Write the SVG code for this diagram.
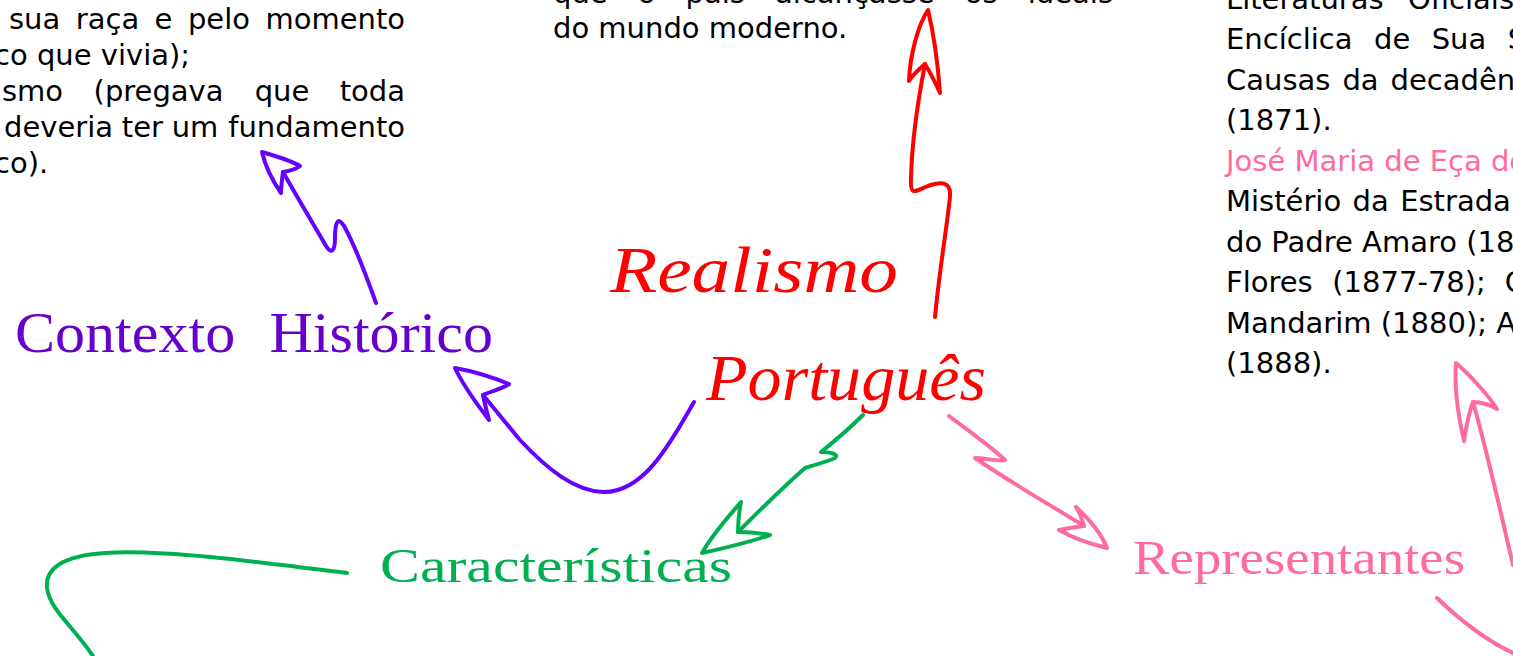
<svg xmlns="http://www.w3.org/2000/svg" width="1513" height="656" viewBox="0 0 1513 656">
<style>
.body{font-family:"DejaVu Sans","Verdana",sans-serif;font-size:29px;fill:#000}
.pink{fill:#ff6b9d}
.end{text-anchor:end}
.deco{font-family:"Liberation Serif","Times New Roman",serif}
.script{font-family:"Liberation Serif","Times New Roman",serif;font-style:italic;fill:#ff0000}
.ar{fill:none;stroke-width:4;stroke-linecap:round;stroke-linejoin:round}
.red{stroke:#ff0000}
.pur{stroke:#6600ff}
.grn{stroke:#00b050}
.pnk{stroke:#ff6b9d}
</style>
<rect width="1513" height="656" fill="#fff"/>

<g id="texto-contexto">
  <text class="body" y="29"><tspan x="9">sua</tspan><tspan x="75.8">raça</tspan><tspan x="154.6">e</tspan><tspan x="187.9">pelo</tspan></text>
  <text class="body end" x="405" y="29">momento</text>
  <text class="body" x="-6" y="65">co que vivia);</text>
  <text class="body" y="101"><tspan x="2">smo</tspan><tspan x="93.6">(pregava</tspan><tspan x="254.7">que</tspan></text>
  <text class="body end" x="405" y="101">toda</text>
  <text class="body" y="137"><tspan x="4">deveria</tspan><tspan x="121.8">ter</tspan><tspan x="171.7">um</tspan></text>
  <text class="body end" x="405" y="137">fundamento</text>
  <text class="body" x="-6" y="173">co).</text>
</g>

<g id="texto-realismo">
  <text class="body" y="3"><tspan x="553">que</tspan><tspan x="637.7">o</tspan><tspan x="685.5">país</tspan><tspan x="775">alcançasse</tspan><tspan x="964.8">os</tspan></text>
  <text class="body end" x="1113" y="3">ideais</text>
  <text class="body" x="553" y="38">do mundo moderno.</text>
</g>

<g id="texto-representantes">
  <text class="body" y="9"><tspan x="1226">Literaturas</tspan><tspan x="1408">Oficiais</tspan></text>
  <text class="body" y="49"><tspan x="1226">Encíclica</tspan><tspan x="1374">de</tspan><tspan x="1431.7">Sua</tspan><tspan x="1507.8">Santidade</tspan></text>
  <text class="body" y="90"><tspan x="1226">Causas</tspan><tspan x="1342.4">da</tspan><tspan x="1390.6">decadência</tspan></text>
  <text class="body" x="1226" y="130">(1871).</text>
  <text class="body pink" x="1226" y="171">José Maria de Eça de</text>
  <text class="body" y="211"><tspan x="1226">Mistério</tspan><tspan x="1352.5">da</tspan><tspan x="1400.2">Estrada</tspan></text>
  <text class="body" x="1226" y="252">do Padre Amaro (1875);</text>
  <text class="body" y="292"><tspan x="1226">Flores</tspan><tspan x="1332.3">(1877-78);</tspan><tspan x="1504.8">O</tspan></text>
  <text class="body" x="1226" y="333">Mandarim (1880); A</text>
  <text class="body" x="1226" y="373">(1888).</text>
</g>

<g id="node-realismo">
  <text class="script" x="610" y="292" font-size="66" textLength="288" lengthAdjust="spacingAndGlyphs">Realismo</text>
  <text class="script" x="706" y="400" font-size="66" textLength="280" lengthAdjust="spacingAndGlyphs">Português</text>
</g>

<g id="node-contexto">
  <text class="deco" x="15" y="352" font-size="56" fill="#6600cc" word-spacing="18" textLength="478" lengthAdjust="spacingAndGlyphs">Contexto Histórico</text>
</g>

<g id="node-caracteristicas">
  <text class="deco" x="380" y="582" font-size="48" fill="#00b050" textLength="352" lengthAdjust="spacingAndGlyphs">Características</text>
</g>

<g id="node-representantes">
  <text class="deco" x="1133" y="574" font-size="48" fill="#ff6b9d" textLength="332" lengthAdjust="spacingAndGlyphs">Representantes</text>
</g>

<g id="connectors">
  <path class="ar red" d="M935,317 C940,265 948,220 950,196 C951,182 942,181 928,186 C914,192 910,196 911,178 C912,140 919,95 925,64"/>
  <path class="ar red" d="M925,64 C918,70 912,76 909,81 C910,55 918,25 928,10 C934,35 938,65 940,93 C935,82 930,72 925,64"/>

  <path class="ar pur" d="M376,303 C366,275 352,240 344,226 C338,216 335,222 335,238 C335,252 331,254 326,246 C312,222 296,195 283,172"/>
  <path class="ar pur" d="M283,172 C282,180 281,186 281,193 C272,180 265,165 262,152 C275,156 290,160 300,166 C295,170 289,171 283,172"/>

  <path class="ar pur" d="M694,402 C668,448 642,493 603,492 C575,491 548,470 520,440 L483,395"/>
  <path class="ar pur" d="M483,395 C485,405 487,412 489,420 C476,403 463,385 455,368 C472,371 492,377 509,384 C502,389 492,391 483,395"/>

  <path class="ar grn" d="M863,415 C850,428 836,440 821,452 C835,452 840,456 833,459 C825,462 815,465 805,468 C780,490 758,512 738,532"/>
  <path class="ar grn" d="M738,532 C738,522 739,512 741,502 C727,518 712,535 702,553 C725,548 750,542 770,535 C760,533 748,532 738,532"/>

  <path class="ar grn" d="M347,573 C260,562 160,549 105,553 C60,556 45,570 47,588 C50,610 72,625 93,656"/>

  <path class="ar pnk" d="M949,416 C970,432 990,446 1005,460 C1000,462 985,458 975,458 C1010,482 1050,505 1084,526"/>
  <path class="ar pnk" d="M1084,526 C1082,519 1080,513 1076,507 C1090,520 1102,535 1107,548 C1090,544 1073,538 1059,530 C1068,528 1076,527 1084,526"/>

  <path class="ar pnk" d="M1513,565 C1500,510 1488,455 1473,402"/>
  <path class="ar pnk" d="M1473,402 C1468,415 1466,428 1464,441 C1458,415 1454,388 1456,363 C1470,375 1488,395 1497,409 C1490,405 1480,402 1473,402"/>

  <path class="ar pnk" d="M1437,598 C1460,620 1485,640 1513,653"/>
</g>
</svg>
